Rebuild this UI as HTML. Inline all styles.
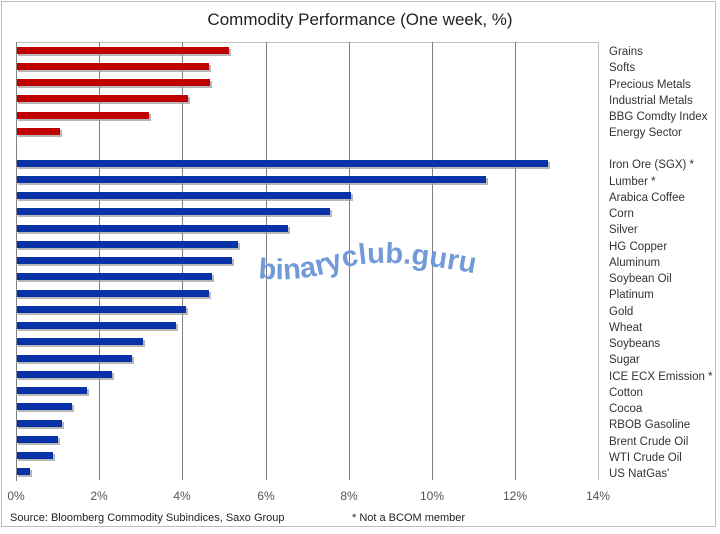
<!DOCTYPE html>
<html><head><style>body{margin:0;background:#fff}</style></head><body>
<svg width="720" height="529" xmlns="http://www.w3.org/2000/svg" font-family="Liberation Sans, sans-serif">
<rect x="1.5" y="1.5" width="714" height="525" fill="#fff" stroke="#bdbdbd"/>
<text x="360" y="25" text-anchor="middle" font-size="17" fill="#222">Commodity Performance (One week, %)</text>
<g stroke="#bdbdbd" fill="none"><path d="M16.5 42.5H598.5V480"/></g>
<g stroke="#808080">
<line x1="99.5" y1="42" x2="99.5" y2="480"/><line x1="182.5" y1="42" x2="182.5" y2="480"/><line x1="266.5" y1="42" x2="266.5" y2="480"/><line x1="349.5" y1="42" x2="349.5" y2="480"/><line x1="432.5" y1="42" x2="432.5" y2="480"/><line x1="515.5" y1="42" x2="515.5" y2="480"/>
<line x1="16.5" y1="42" x2="16.5" y2="481"/>
</g>
<g>
<g fill="#999" opacity="0.7">
<rect x="18" y="49" width="213" height="7"/><rect x="18" y="65" width="193" height="7"/><rect x="18" y="81" width="194" height="7"/><rect x="18" y="97" width="172" height="7"/><rect x="18" y="114" width="133" height="7"/><rect x="18" y="130" width="44" height="7"/>
<rect x="18" y="162" width="532" height="7"/><rect x="18" y="178" width="470" height="7"/><rect x="18" y="194" width="335" height="7"/><rect x="18" y="210" width="314" height="7"/><rect x="18" y="227" width="272" height="7"/><rect x="18" y="243" width="222" height="7"/><rect x="18" y="259" width="216" height="7"/><rect x="18" y="275" width="196" height="7"/><rect x="18" y="292" width="193" height="7"/><rect x="18" y="308" width="170" height="7"/><rect x="18" y="324" width="160" height="7"/><rect x="18" y="340" width="127" height="7"/><rect x="18" y="357" width="116" height="7"/><rect x="18" y="373" width="96" height="7"/><rect x="18" y="389" width="71" height="7"/><rect x="18" y="405" width="56" height="7"/><rect x="18" y="422" width="46" height="7"/><rect x="18" y="438" width="42" height="7"/><rect x="18" y="454" width="37" height="7"/><rect x="18" y="470" width="14" height="7"/>
</g>
<g fill="#c00000">
<rect x="17" y="47" width="212" height="7"/><rect x="17" y="63" width="192" height="7"/><rect x="17" y="79" width="193" height="7"/><rect x="17" y="95" width="171" height="7"/><rect x="17" y="112" width="132" height="7"/><rect x="17" y="128" width="43" height="7"/>
</g>
<g fill="#0a32a8">
<rect x="17" y="160" width="531" height="7"/><rect x="17" y="176" width="469" height="7"/><rect x="17" y="192" width="334" height="7"/><rect x="17" y="208" width="313" height="7"/><rect x="17" y="225" width="271" height="7"/><rect x="17" y="241" width="221" height="7"/><rect x="17" y="257" width="215" height="7"/><rect x="17" y="273" width="195" height="7"/><rect x="17" y="290" width="192" height="7"/><rect x="17" y="306" width="169" height="7"/><rect x="17" y="322" width="159" height="7"/><rect x="17" y="338" width="126" height="7"/><rect x="17" y="355" width="115" height="7"/><rect x="17" y="371" width="95" height="7"/><rect x="17" y="387" width="70" height="7"/><rect x="17" y="403" width="55" height="7"/><rect x="17" y="420" width="45" height="7"/><rect x="17" y="436" width="41" height="7"/><rect x="17" y="452" width="36" height="7"/><rect x="17" y="468" width="13" height="7"/>
</g>
</g>
<g font-size="11.5" fill="#333">
<text x="609" y="55">Grains</text><text x="609" y="71">Softs</text><text x="609" y="88">Precious Metals</text><text x="609" y="104">Industrial Metals</text><text x="609" y="120">BBG Comdty Index</text><text x="609" y="136">Energy Sector</text>
<text x="609" y="168">Iron Ore (SGX) *</text><text x="609" y="185">Lumber *</text><text x="609" y="201">Arabica Coffee</text><text x="609" y="217">Corn</text><text x="609" y="233">Silver</text><text x="609" y="250">HG Copper</text><text x="609" y="266">Aluminum</text><text x="609" y="282">Soybean Oil</text><text x="609" y="298">Platinum</text><text x="609" y="315">Gold</text><text x="609" y="331">Wheat</text><text x="609" y="347">Soybeans</text><text x="609" y="363">Sugar</text><text x="609" y="380">ICE ECX Emission *</text><text x="609" y="396">Cotton</text><text x="609" y="412">Cocoa</text><text x="609" y="428">RBOB Gasoline</text><text x="609" y="445">Brent Crude Oil</text><text x="609" y="461">WTI Crude Oil</text><text x="609" y="477">US NatGas'</text>
</g>
<g font-size="12" fill="#555" text-anchor="middle">
<text x="16" y="500">0%</text><text x="99" y="500">2%</text><text x="182" y="500">4%</text><text x="266" y="500">6%</text><text x="349" y="500">8%</text><text x="432" y="500">10%</text><text x="515" y="500">12%</text><text x="598" y="500">14%</text>
</g>
<text x="10" y="521" font-size="11" fill="#222">Source: Bloomberg Commodity Subindices, Saxo Group</text>
<text x="352" y="521" font-size="11" fill="#222">* Not a BCOM member</text>
<defs><path id="wv" d="M258 278 Q300 283 340 269 T472 273"/></defs>
<text font-size="29" font-weight="bold" fill="#6b95d8" opacity="0.95"><textPath href="#wv">binaryclub.guru</textPath></text>
</svg>
</body></html>
